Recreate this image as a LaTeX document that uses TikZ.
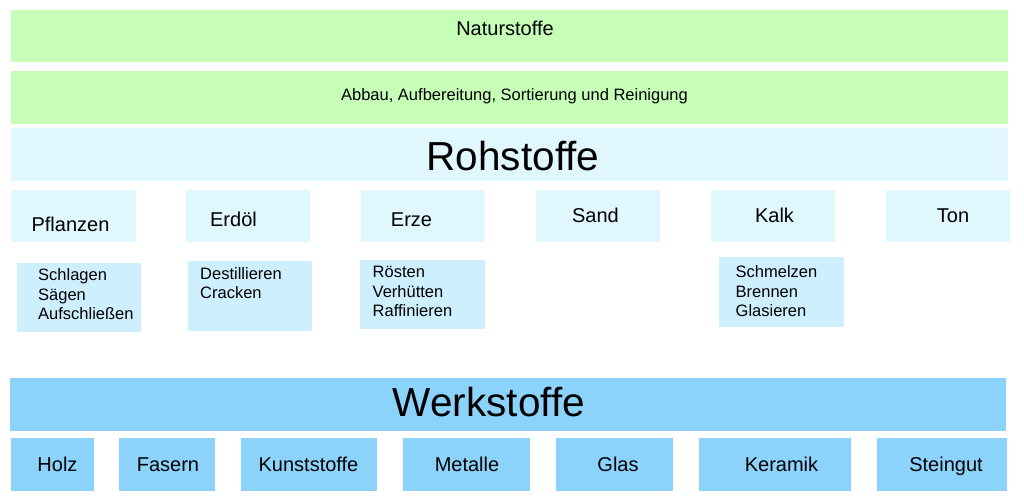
\documentclass[tikz,border=0pt]{standalone}
\usepackage{fontspec}
\setmainfont{Liberation Sans}
\usepackage{tikz}

\definecolor{naturgruen}{RGB}{198,254,184}
\definecolor{rohblau}{RGB}{224,247,254}
\definecolor{prozblau}{RGB}{206,240,254}
\definecolor{werkblau}{RGB}{140,211,252}

\begin{document}
\begin{tikzpicture}[x=1pt,y=-1pt,
        gross/.style={anchor=base,inner sep=0pt,font=\fontsize{40.5}{48}\selectfont},
        stoff/.style={anchor=base,inner sep=0pt,font=\fontsize{20}{24}\selectfont},
        proz/.style={anchor=base west,align=left,inner sep=0pt,font=\fontsize{16.5}{19.5}\selectfont}]
        \useasboundingbox (0,0) rectangle (1024,502);
        % Balken
        \fill[naturgruen] (11,10) rectangle (1008,62);
        \fill[naturgruen] (11,71) rectangle (1008,124);
        \fill[rohblau] (11,128) rectangle (1008,181);
        \fill[werkblau] (10,378) rectangle (1006,431);
        % Rohstoffe
        \fill[rohblau] (11,190) rectangle (136,242);
        \fill[rohblau] (186,190) rectangle (310,242);
        \fill[rohblau] (361,190) rectangle (485,242);
        \fill[rohblau] (536,190) rectangle (660,242);
        \fill[rohblau] (711,190) rectangle (835,242);
        \fill[rohblau] (886,190) rectangle (1010,242);
        % Verfahren
        \fill[prozblau] (17,263) rectangle (141,332);
        \fill[prozblau] (188,261) rectangle (312,331);
        \fill[prozblau] (360,260) rectangle (485,329);
        \fill[prozblau] (719,257) rectangle (844,327);
        % Werkstoffe
        \fill[werkblau] (11,438) rectangle (94,491);
        \fill[werkblau] (119,438) rectangle (215,491);
        \fill[werkblau] (241,438) rectangle (377,491);
        \fill[werkblau] (403,438) rectangle (530,491);
        \fill[werkblau] (556,438) rectangle (673,491);
        \fill[werkblau] (699,438) rectangle (851,491);
        \fill[werkblau] (877,438) rectangle (1007,491);

        \node[stoff] (natur) at (505,36) {Naturstoffe};
        \node[stoff,font=\fontsize{16.5}{20}\selectfont] (abbau) at (514.5,101) {Abbau, Aufbereitung, Sortierung und Reinigung};
        \node[gross] (roh) at (513,171) {Rohstoffe};
        \node[stoff] (pflanzen) at (70.5,232) {Pflanzen};
        \node[stoff] (erdoel) at (233.5,227) {Erdöl};
        \node[stoff] (erze) at (411.5,227) {Erze};
        \node[stoff] (sand) at (595.5,223) {Sand};
        \node[stoff] (kalk) at (774.5,223) {Kalk};
        \node[stoff] (ton) at (953,223) {Ton};
        \node[proz] (pflproz) at (38,319.5) {Schlagen\\Sägen\\Aufschließen};
        \node[proz] (erdproz) at (200,298.5) {Destillieren\\Cracken};
        \node[proz] (erzproz) at (372.5,316.7) {Rösten\\Verhütten\\Raffinieren};
        \node[proz] (kalkproz) at (735.5,316.7) {Schmelzen\\Brennen\\Glasieren};
        \node[gross] (werk) at (489,416) {Werkstoffe};
        \node[stoff] (holz) at (57.5,471) {Holz};
        \node[stoff] (fasern) at (168,471) {Fasern};
        \node[stoff] (kunst) at (308.5,471) {Kunststoffe};
        \node[stoff] (metalle) at (467,471) {Metalle};
        \node[stoff] (glas) at (618,471) {Glas};
        \node[stoff] (keramik) at (781.5,471) {Keramik};
        \node[stoff] (steingut) at (946,471) {Steingut};
    \end{tikzpicture}
\end{document}
